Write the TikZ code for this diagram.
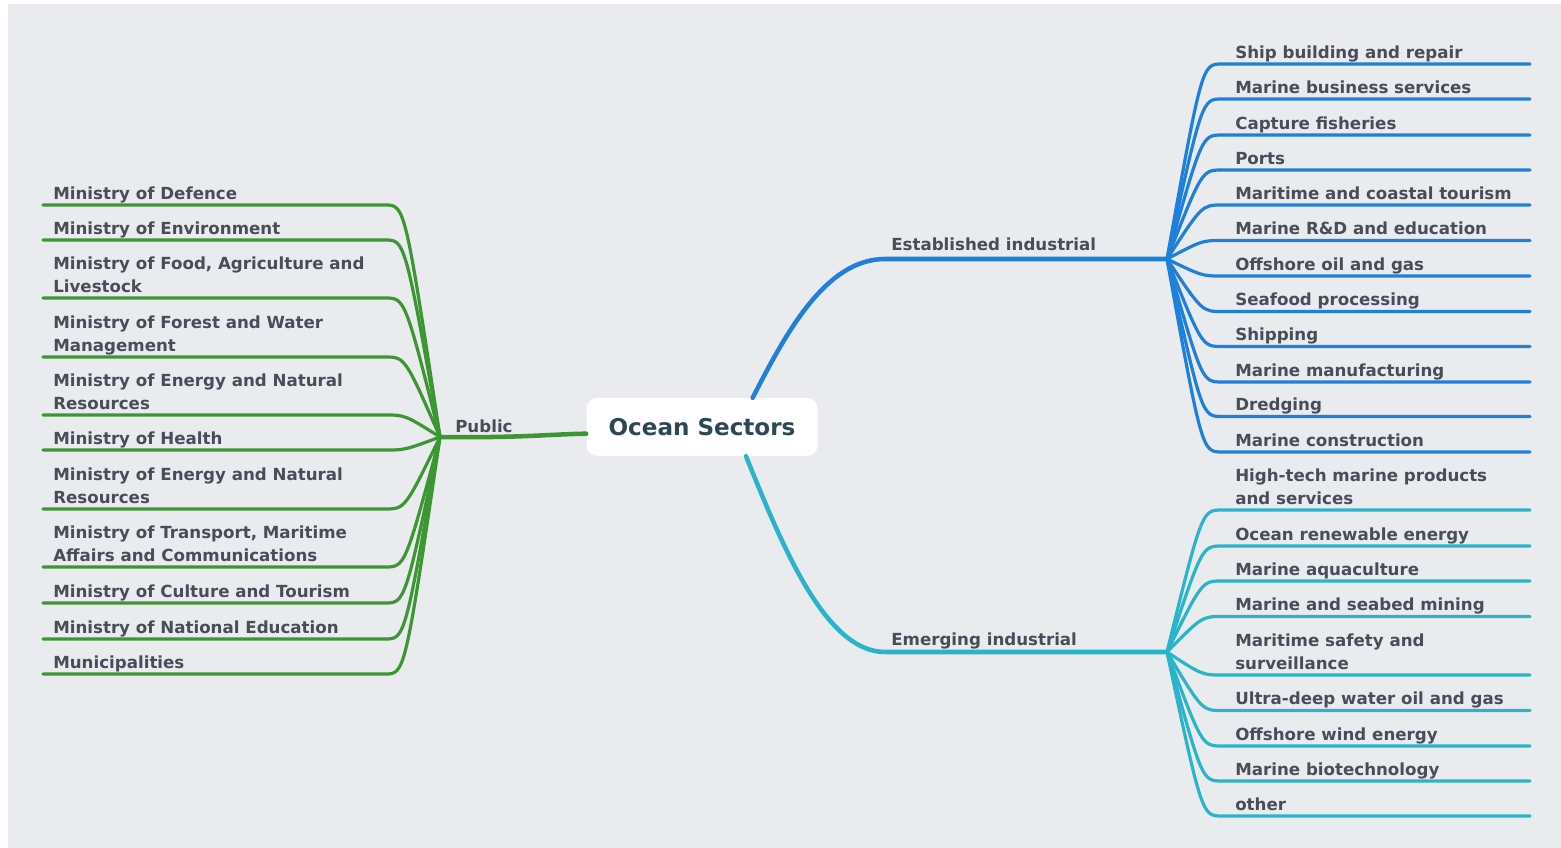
\documentclass[tikz,border=0pt]{standalone}
\usepackage{fontspec}
\setmainfont{DejaVu Sans}
\definecolor{bgc}{RGB}{233,235,238}
\definecolor{txt}{RGB}{72,77,90}
\definecolor{titc}{RGB}{44,72,84}
\definecolor{gre}{RGB}{61,150,52}
\definecolor{blu}{RGB}{30,128,218}
\definecolor{tea}{RGB}{42,180,202}
\newcommand\lblfont{\fontsize{12.5}{17.25}\selectfont\bfseries}
\newcommand\mystrut{\rule[-4.1pt]{0pt}{1pt}}
\tikzset{
  lbl/.style={anchor=south west, inner ysep=0pt, align=left, font=\lblfont, text=txt},
  lblL/.style={lbl, inner xsep=7.5pt},
  lblR/.style={lbl, inner xsep=9.75pt},
  mid/.style={anchor=base west, inner sep=0pt, font=\lblfont, text=txt},
  br/.style={line width=2.4pt, line cap=round, line join=round},
  trunk/.style={line width=3.4pt, line cap=round},
}
\begin{document}
\begin{tikzpicture}[x=0.75pt,y=-0.75pt]
\fill[white] (0,0) rectangle (1561,848);
\fill[bgc] (8,4) rectangle (1561,848);
\useasboundingbox (0,0) rectangle (1561,848);

% helper coordinates
\coordinate (hubL) at (440,437);
\coordinate (hubE) at (1167,259);
\coordinate (hubM) at (1167,652);
\coordinate (lend) at (385,0);
\coordinate (lctl) at (405,0);
\coordinate (rctl) at (1202,0);
\coordinate (rend) at (1530,0);

% centre
\node[fill=white, rounded corners=8pt, minimum width=173.25pt, minimum height=43.5pt,
      font=\fontsize{17.3}{20}\selectfont\bfseries, text=titc] (root) at (702,427) {Ocean Sectors};

% mid labels
\node[mid] (pub) at (455,433) {Public};
\node[mid] (est) at (891,251) {Established industrial};
\node[mid] (emr) at (891,645) {Emerging industrial};

% trunks
\draw[trunk, gre] (hubL) .. controls (520,438) and (545,434.5) .. ([yshift=-5pt]root.west);
\draw[trunk, blu] ([xshift=38pt]root.north) .. controls (785,335) and (825,259) .. (885,259) -- (hubE);
\draw[trunk, tea] ([xshift=33pt]root.south) .. controls (782,545) and (825,652) .. (885,652) -- (hubM);

% left labels
\node[lblL] (l1) at (43,205) {Ministry of Defence\mystrut};
\node[lblL] (l2) at (43,240) {Ministry of Environment\mystrut};
\node[lblL] (l3) at (43,298) {Ministry of Food, Agriculture and\\Livestock\mystrut};
\node[lblL] (l4) at (43,357) {Ministry of Forest and Water\\Management\mystrut};
\node[lblL] (l5) at (43,415) {Ministry of Energy and Natural\\Resources\mystrut};
\node[lblL] (l6) at (43,450) {Ministry of Health\mystrut};
\node[lblL] (l7) at (43,509) {Ministry of Energy and Natural\\Resources\mystrut};
\node[lblL] (l8) at (43,567) {Ministry of Transport, Maritime\\Affairs and Communications\mystrut};
\node[lblL] (l9) at (43,603) {Ministry of Culture and Tourism\mystrut};
\node[lblL] (l10) at (43,639) {Ministry of National Education\mystrut};
\node[lblL] (l11) at (43,674) {Municipalities\mystrut};
\foreach \n in {l1,l2,l3,l4,l5,l6,l7,l8,l9,l10,l11}
  \draw[br, gre] (hubL) .. controls (\n.south west -| lctl) .. (\n.south west -| lend) -- (\n.south west);

% established labels
\node[lblR] (e1) at (1222,64) {Ship building and repair\mystrut};
\node[lblR] (e2) at (1222,99) {Marine business services\mystrut};
\node[lblR] (e3) at (1222,135) {Capture fisheries\mystrut};
\node[lblR] (e4) at (1222,170) {Ports\mystrut};
\node[lblR] (e5) at (1222,205) {Maritime and coastal tourism\mystrut};
\node[lblR] (e6) at (1222,240.5) {Marine R\&D and education\mystrut};
\node[lblR] (e7) at (1222,276) {Offshore oil and gas\mystrut};
\node[lblR] (e8) at (1222,311.5) {Seafood processing\mystrut};
\node[lblR] (e9) at (1222,346.5) {Shipping\mystrut};
\node[lblR] (e10) at (1222,382) {Marine manufacturing\mystrut};
\node[lblR] (e11) at (1222,416.5) {Dredging\mystrut};
\node[lblR] (e12) at (1222,452) {Marine construction\mystrut};
\foreach \n in {e1,e2,e3,e4,e5,e6,e7,e8,e9,e10,e11,e12}
  \draw[br, blu] (hubE) .. controls (\n.south west -| rctl) .. (\n.south west) -- (\n.south west -| rend);

% emerging labels
\node[lblR] (m1) at (1222,510) {High-tech marine products\\and services\mystrut};
\node[lblR] (m2) at (1222,546) {Ocean renewable energy\mystrut};
\node[lblR] (m3) at (1222,581) {Marine aquaculture\mystrut};
\node[lblR] (m4) at (1222,616.5) {Marine and seabed mining\mystrut};
\node[lblR] (m5) at (1222,675) {Maritime safety and\\surveillance\mystrut};
\node[lblR] (m6) at (1222,710.5) {Ultra-deep water oil and gas\mystrut};
\node[lblR] (m7) at (1222,746) {Offshore wind energy\mystrut};
\node[lblR] (m8) at (1222,781) {Marine biotechnology\mystrut};
\node[lblR] (m9) at (1222,816) {other\mystrut};
\foreach \n in {m1,m2,m3,m4,m5,m6,m7,m8,m9}
  \draw[br, tea] (hubM) .. controls (\n.south west -| rctl) .. (\n.south west) -- (\n.south west -| rend);
\end{tikzpicture}
\end{document}
